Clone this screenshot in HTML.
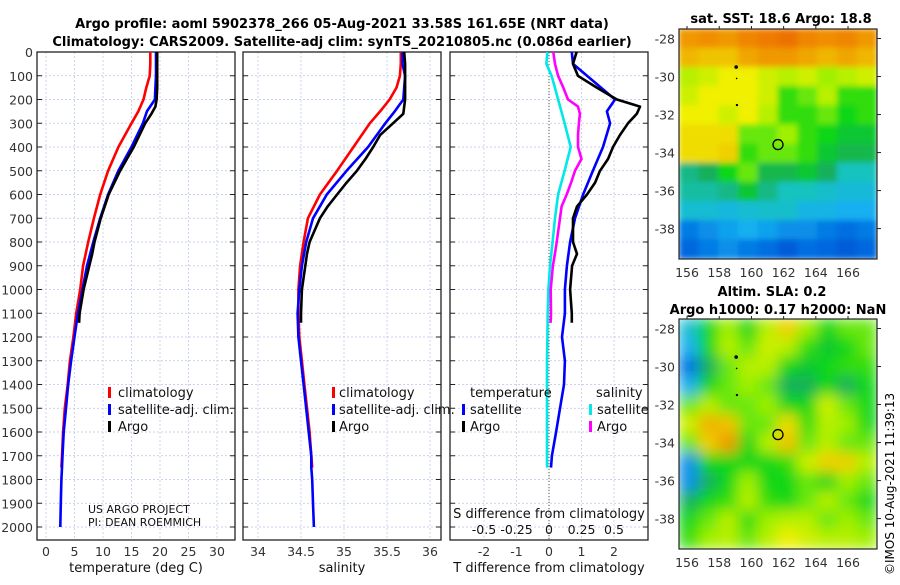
<!DOCTYPE html>
<html><head><meta charset="utf-8"><style>
body{margin:0;background:#fff;}
svg text{font-family:"DejaVu Sans","Liberation Sans",sans-serif;}
</style></head><body>
<svg id="fig" width="900" height="580" viewBox="0 0 900 580" xmlns="http://www.w3.org/2000/svg">
<defs>
<filter id="blur" x="0" y="0" width="1" height="1"><feGaussianBlur stdDeviation="7" edgeMode="duplicate"/></filter>
<filter id="blur2" x="0" y="0" width="1" height="1"><feGaussianBlur stdDeviation="3" edgeMode="duplicate"/></filter>
<clipPath id="c1"><rect x="679" y="29" width="198" height="230"/></clipPath>
<clipPath id="c2"><rect x="679" y="319" width="198" height="230"/></clipPath>
</defs>
<text x="342" y="28" font-size="13" font-weight="bold" text-anchor="middle">Argo profile: aoml 5902378_266 05-Aug-2021 33.58S 161.65E (NRT data)</text>
<text x="342" y="46" font-size="13" font-weight="bold" text-anchor="middle">Climatology: CARS2009. Satellite-adj clim: synTS_20210805.nc (0.086d earlier)</text>
<g id="plots"></g>
<text x="781" y="23" font-size="13" font-weight="bold" text-anchor="middle">sat. SST: 18.6 Argo: 18.8</text>
<text x="772" y="296" font-size="13" font-weight="bold" text-anchor="middle">Altim. SLA: 0.2</text>
<text x="778" y="314" font-size="13" font-weight="bold" text-anchor="middle">Argo h1000: 0.17 h2000: NaN</text>
<text transform="translate(894,575) rotate(-90)" font-size="12">©IMOS 10-Aug-2021 11:39:13</text>
</svg>
<script>
const depths=[0,50,100,150,200,250,300,400,500,600,700,800,900,1000,1100,1200,1300,1400,1500,1600,1700,1750,1800,1900,2000];
const tClim=[18.3,18.3,18.2,17.6,17.1,16.2,15.0,12.7,10.9,9.5,8.4,7.4,6.5,6.0,5.3,4.8,4.2,3.8,3.3,3.0,2.8,2.7];
const tSat=[19.3,19.3,19.3,19.2,19.1,17.7,17.0,15.0,12.7,10.9,9.5,8.3,7.2,6.4,5.6,5.0,4.4,3.9,3.5,3.1,2.9,2.8,2.7,2.6,2.5];
const argoDepths=[0,50,100,150,200,230,260,300,350,400,450,500,550,600,650,700,800,850,900,1000,1100,1140];
const tArgo=[19.5,19.5,19.5,19.5,19.4,19.2,18.5,17.4,16.4,15.4,14.2,13.0,12.0,11.0,10.3,9.6,8.5,8.1,7.6,6.6,5.9,5.8];
const sClim=[35.66,35.66,35.65,35.61,35.53,35.42,35.30,35.11,34.92,34.72,34.58,34.53,34.49,34.47,34.47,34.48,34.51,34.54,34.57,34.60,34.62,34.63];
const sSat=[35.68,35.68,35.71,35.70,35.69,35.59,35.48,35.28,35.03,34.80,34.64,34.56,34.51,34.48,34.46,34.47,34.50,34.53,34.56,34.59,34.62,34.62,34.63,34.64,34.65];
const sArgo=[35.70,35.71,35.71,35.71,35.71,35.70,35.69,35.57,35.42,35.34,35.25,35.15,35.03,34.92,34.81,34.72,34.60,34.57,34.55,34.51,34.50,34.50];
const dtSat=[0.7,0.74,1.17,1.6,2.03,1.78,1.88,1.66,1.35,1.05,0.8,0.65,0.55,0.49,0.49,0.4,0.49,0.46,0.34,0.22,0.09,0.06];
const dsSat=[-0.013,-0.02,0.02,0.045,0.07,0.095,0.12,0.167,0.12,0.07,0.046,0.028,0.008,-0.005,-0.01,-0.012,-0.015,-0.015,-0.015,-0.015,-0.015,-0.015];
const dtArgo=[0.85,0.74,0.89,1.47,2.09,2.8,2.7,2.43,2.18,1.97,1.82,1.57,1.42,1.17,0.86,0.74,0.74,0.86,0.71,0.65,0.7,0.7];
const dsArgo=[0.033,0.046,0.07,0.11,0.146,0.223,0.238,0.23,0.223,0.223,0.25,0.2,0.17,0.136,0.097,0.085,0.059,0.045,0.03,0.013,0.015,0.012];
const yTicks=[0,100,200,300,400,500,600,700,800,900,1000,1100,1200,1300,1400,1500,1600,1700,1800,1900,2000];
const tTicks=[0,5,10,15,20,25,30];
const sTicks=[34,34.5,35,35.5,36];
const dTTicks=[-2,-1,0,1,2];
const dSTickLabels=["-0.5","-0.25","0","0.25","0.5"];
const dSTicks=[-0.5,-0.25,0,0.25,0.5];
const latTicks=[-28,-30,-32,-34,-36,-38];
const lonTicks=[156,158,160,162,164,166];
const sstGrid=[
[.8,.82,.8,.84,.86,.88,.84,.82,.84,.8],
[.74,.72,.72,.77,.8,.8,.77,.74,.77,.74],
[.6,.62,.65,.65,.62,.6,.62,.58,.6,.62],
[.62,.65,.65,.65,.62,.52,.55,.6,.52,.52],
[.65,.65,.62,.65,.6,.52,.52,.55,.5,.52],
[.68,.68,.68,.55,.55,.58,.52,.5,.48,.48],
[.68,.68,.7,.52,.55,.55,.52,.48,.46,.46],
[.42,.45,.5,.55,.46,.46,.48,.45,.38,.38],
[.4,.4,.42,.48,.42,.38,.38,.36,.34,.34],
[.35,.35,.33,.35,.36,.36,.32,.32,.3,.3],
[.22,.25,.28,.3,.28,.25,.25,.22,.2,.22],
[.18,.22,.25,.22,.2,.15,.2,.18,.15,.18]];
const slaGrid=[
[.35,.5,.58,.5,.6,.7,.58,.5,.55,.55],
[.3,.5,.6,.55,.62,.6,.52,.48,.5,.55],
[.2,.45,.55,.6,.6,.5,.48,.5,.52,.52],
[.3,.5,.55,.58,.55,.45,.45,.5,.45,.5],
[.55,.6,.55,.55,.58,.5,.5,.62,.55,.5],
[.62,.75,.72,.55,.55,.68,.52,.6,.58,.5],
[.55,.7,.8,.5,.6,.72,.55,.6,.55,.55],
[.25,.5,.5,.5,.5,.52,.62,.7,.7,.6],
[.25,.45,.5,.58,.5,.5,.55,.5,.58,.55],
[.45,.5,.52,.6,.52,.5,.55,.6,.55,.5],
[.5,.55,.6,.52,.58,.6,.6,.55,.58,.55],
[.52,.58,.6,.55,.6,.65,.62,.6,.6,.58]];
const argoLon=161.65, argoLat=-33.58;

const NS="http://www.w3.org/2000/svg";
const root=document.getElementById('plots');
function mk(tag,attrs,parent){const e=document.createElementNS(NS,tag);for(const k in attrs)e.setAttribute(k,attrs[k]);(parent||root).appendChild(e);return e;}
const yTop=52,yBot=540;
const yS=d=>yTop+d*(527-yTop)/2000;
function panel(x0,x1,xs,ticks,labels,name){
  const g=mk('g',{});
  
  
  ticks.forEach(t=>{const l=mk('line',{x1:xs(t),x2:xs(t),y1:yTop,y2:yBot,stroke:'#b8c4e8','stroke-width':0.7,'stroke-dasharray':'2,2'},g);
    
    });
  yTicks.forEach(d=>{const l=mk('line',{x1:x0,x2:x1,y1:yS(d),y2:yS(d),stroke:'#b8c4e8','stroke-width':0.7,'stroke-dasharray':'2,2'},g);
    
    
    mk('line',{x1:x0,x2:x0+5,y1:yS(d),y2:yS(d),stroke:'#222'},g);
    mk('line',{x1:x1-5,x2:x1,y1:yS(d),y2:yS(d),stroke:'#222'},g);});
  const r=mk('rect',{x:x0,y:yTop,width:x1-x0,height:yBot-yTop,fill:'none',stroke:'#222','stroke-width':1.3},g);
  
  
  if(labels) ticks.forEach((t,i)=>{const tx=mk('text',{x:xs(t),y:556,'font-size':12.5,'text-anchor':'middle',fill:'#333'},g);tx.textContent=labels[i];
    
    });
  return g;
}
function line(xs,vals,ds,color,name,w){
  const pts=vals.map((v,i)=>xs(v).toFixed(1)+','+yS(ds[i]).toFixed(1)).join(' ');
  const p=mk('polyline',{points:pts,fill:'none',stroke:color,'stroke-width':w||2.6,'stroke-linejoin':'round'});
  
  
}
function txt(x,y,s,size,name,anchor){const t=mk('text',{x:x,y:y,'font-size':size,'text-anchor':anchor||'start',fill:'#111'});t.textContent=s;
  
  return t;}
function marker(x,y,color,name){const r=mk('rect',{x:x,y:y-10,width:3,height:11,fill:color});
  
  }

// Panel 1 temperature
const xT=v=>46+v*5.7;
panel(37,235,xT,tTicks,tTicks.map(String),'temperature-panel');
yTicks.forEach(d=>{const t=txt(33,yS(d)+5,String(d),12.5,'y-tick-label','end');t.setAttribute('fill','#333');});
line(xT,tClim,depths.slice(0,tClim.length),'#ff0000','temperature-climatology-line');
line(xT,tSat,depths,'#0000ff','temperature-satellite-line');
line(xT,tArgo,argoDepths,'#000','temperature-argo-line');
txt(136,572,'temperature (deg C)',13,'temperature-axis-title','middle');
marker(108,397,'#ff0000','legend-climatology-marker');txt(118,397,'climatology',13,'legend-climatology');
marker(108,414,'#0000ff','legend-satellite-marker');txt(118,414,'satellite-adj. clim.',13,'legend-satellite');
marker(108,431,'#000','legend-argo-marker');txt(118,431,'Argo',13,'legend-argo');
txt(88,513,'US ARGO PROJECT',11,'project-label');
txt(88,526,'PI: DEAN ROEMMICH',11,'pi-label');

// Panel 2 salinity
const xSal=v=>258+(v-34)*86;
panel(243,441,xSal,sTicks,sTicks.map(String),'salinity-panel');
line(xSal,sClim,depths.slice(0,sClim.length),'#ff0000','salinity-climatology-line');
line(xSal,sSat,depths,'#0000ff','salinity-satellite-line');
line(xSal,sArgo,argoDepths,'#000','salinity-argo-line');
txt(342,572,'salinity',13,'salinity-axis-title','middle');
marker(332,397,'#ff0000','legend2-climatology-marker');txt(339,397,'climatology',13,'legend2-climatology');
marker(332,414,'#0000ff','legend2-satellite-marker');txt(339,414,'satellite-adj. clim.',13,'legend2-satellite');
marker(332,431,'#000','legend2-argo-marker');txt(339,431,'Argo',13,'legend2-argo');

// Panel 3 differences
const xDT=v=>549+v*32.5;
const xDS=v=>549+v*130;
panel(450,648,xDT,dTTicks,dTTicks.map(String),'difference-panel');
const z=mk('line',{x1:xDT(0),x2:xDT(0),y1:yTop,y2:yBot,stroke:'#555','stroke-dasharray':'1,2'});


const dd=depths.slice(0,22);
line(xDS,dsSat,dd,'#00e8e8','salinity-satellite-diff-line');
line(xDS,dsArgo,argoDepths,'#ff00ff','salinity-argo-diff-line');
line(xDT,dtSat,dd,'#0000ff','temperature-satellite-diff-line');
line(xDT,dtArgo,argoDepths,'#000','temperature-argo-diff-line');
txt(549,572,'T difference from climatology',13,'t-diff-axis-title','middle');
txt(549,518,'S difference from climatology',13,'s-diff-axis-title','middle');
dSTicks.forEach((t,i)=>txt(xDS(t),534,dSTickLabels[i],12.5,'s-diff-tick-label','middle'));
txt(470,397,'temperature',13,'legend3-temperature-header');
marker(462,414,'#0000ff','legend3-t-satellite-marker');txt(470,414,'satellite',13,'legend3-t-satellite');
marker(462,431,'#000','legend3-t-argo-marker');txt(470,431,'Argo',13,'legend3-t-argo');
txt(596,397,'salinity',13,'legend3-salinity-header');
marker(589,414,'#00e8e8','legend3-s-satellite-marker');txt(597,414,'satellite',13,'legend3-s-satellite');
marker(589,431,'#ff00ff','legend3-s-argo-marker');txt(597,431,'Argo',13,'legend3-s-argo');

// Maps
const cstops=[[0,[0,40,190]],[.2,[0,110,225]],[.3,[20,175,240]],[.38,[20,195,190]],[.45,[20,175,90]],[.5,[10,215,20]],[.58,[160,240,0]],[.65,[240,240,0]],[.75,[240,176,0]],[.85,[240,128,0]],[1,[220,60,0]]];
function cmap(v){for(let i=1;i<cstops.length;i++){if(v<=cstops[i][0]){const a=cstops[i-1],b=cstops[i],f=(v-a[0])/(b[0]-a[0]);return 'rgb('+a[1].map((c,k)=>Math.round(c+(b[1][k]-c)*f)).join(',')+')';}}return 'rgb(220,60,0)';}
function map(grid,x0,y0,w,h,clip,name,filt){
  const lonS=v=>x0+(v-155.5)*w/12.3;
  const latS=v=>y0+(-27.5-v)*h/12.1;
  const g=mk('g',{'clip-path':'url(#'+clip+')'});
  
  
  const gg=mk('g',{filter:'url(#'+filt+')'},g);
  const rows=grid.length,cols=grid[0].length,cw=w/cols,ch=h/rows;
  grid.forEach((row,r)=>row.forEach((v,c)=>{const cell=mk('rect',{x:x0+c*cw-0.5,y:y0+r*ch-0.5,width:cw+1,height:ch+1,fill:cmap(v)},gg);
    
    }));
  const f=mk('rect',{x:x0,y:y0,width:w,height:h,fill:'none',stroke:'#222','stroke-width':1.2});
  
  
  latTicks.forEach(t=>{const y=latS(t);mk('line',{x1:x0+w,x2:x0+w+4,y1:y,y2:y,stroke:'#222'});
    const tx=txt(x0-4,y+5,String(t),12.5,'lat-tick-label','end');tx.setAttribute('fill','#333');});
  lonTicks.forEach(t=>{const x=lonS(t);mk('line',{x1:x,x2:x,y1:y0-3,y2:y0,stroke:'#222'});
    const tx=txt(x,y0+h+18,String(t),12.5,'lon-tick-label','middle');tx.setAttribute('fill','#333');});
  const c=mk('circle',{cx:lonS(argoLon),cy:latS(argoLat),r:5,fill:'none',stroke:'#000','stroke-width':1.3});
  
  
  [[159.05,-29.5,1.8],[159.08,-30.1,0.8],[159.1,-31.5,1.2]].forEach(p=>{const d=mk('circle',{cx:lonS(p[0]),cy:latS(p[1]),r:p[2],fill:'#000'});
    
    });
}
map(sstGrid,679,29,198,230,'c1','sst-map','blur2');
map(slaGrid,679,319,198,230,'c2','sla-map','blur');
</script>
</body></html>
